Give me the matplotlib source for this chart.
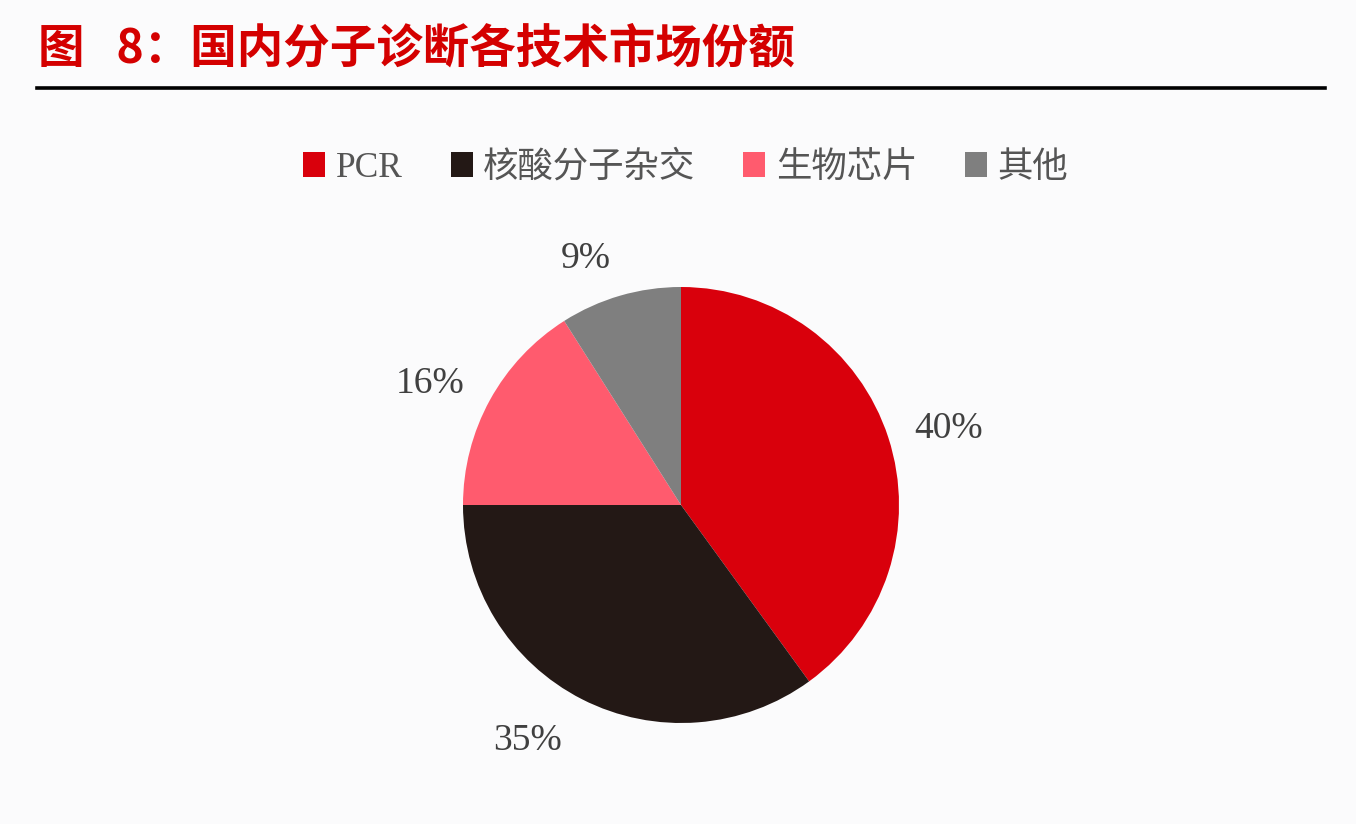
import matplotlib
matplotlib.use('Agg')
import numpy as np
import matplotlib.pyplot as plt
from matplotlib.lines import Line2D
from matplotlib.patches import Patch

plt.rcParams['font.family'] = ['Noto Sans CJK SC', 'DejaVu Sans']

# data
categories = ['PCR', '核酸分子杂交', '生物芯片', '其他']
shares = [40, 35, 16, 9]
colors = ['#D9000C', '#231815', '#FF5B6E', '#7F7F7F']
title = '图   8：国内分子诊断各技术市场份额'

# label placement (radius factor, angle tweak in degrees) per slice
label_dist = [1.275, 1.29, 1.28, 1.21]
label_turn = [-2, -6, 3, 5]

W, H = 1356, 824
fig = plt.figure(figsize=(W / 100, H / 100), dpi=100, facecolor='#FBFBFC')

# title and rule
fig.text(38 / W, 1 - 48 / H, title, color='#D40000', fontsize=33.5,
         fontweight='bold', ha='left', va='center')
fig.add_artist(Line2D([37 / W, 1325 / W], [1 - 88 / H, 1 - 88 / H],
                      color='black', lw=2.6, transform=fig.transFigure))

# pie axes: centre at (681, 505) px, radius 218 px
cx, cy, r, half = 681, 505, 218, 300
ax = fig.add_axes([(cx - half) / W, (H - cy - half) / H, 2 * half / W, 2 * half / H])
ax.set_facecolor('none')
wedges, texts, autotexts = ax.pie(
    shares, colors=colors, startangle=90, counterclock=False,
    autopct=lambda p: f'{p:.0f}%', pctdistance=1.27,
    wedgeprops=dict(linewidth=0),
    textprops=dict(fontsize=27, color='#404040', family=['Liberation Serif']))
for w, t, d, turn in zip(wedges, autotexts, label_dist, label_turn):
    mid = np.deg2rad((w.theta1 + w.theta2) / 2 + turn)
    t.set_position((d * np.cos(mid), d * np.sin(mid)))
lim = half / r
ax.set_xlim(-lim, lim)
ax.set_ylim(-lim, lim)
ax.axis('off')

# legend
handles = [Patch(facecolor=c, edgecolor='none') for c in colors]
leg = fig.legend(handles, categories, loc='center', ncol=4,
                 bbox_to_anchor=(686 / W, 1 - 168 / H), frameon=False,
                 handlelength=0.62, handleheight=0.68, handletextpad=0.3,
                 columnspacing=1.35,
                 prop=dict(family=['Liberation Serif', 'Noto Sans CJK SC'], size=25.5))
for t in leg.get_texts():
    t.set_color('#555555')

fig.savefig('out.png', dpi=100, facecolor=fig.get_facecolor())
